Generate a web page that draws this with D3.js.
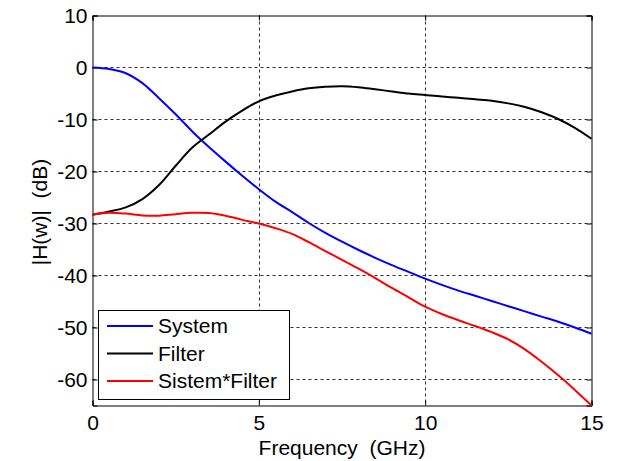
<!DOCTYPE html>
<html>
<head>
<meta charset="utf-8">
<script src="https://cdn.jsdelivr.net/npm/d3@7"></script>
<style>
  body { margin: 0; background: #fff; }
  svg { display: block; }
  text { font-family: Arial, "Liberation Sans", sans-serif; fill: #000; }
</style>
</head>
<body>
<svg id="chart" width="617" height="461"></svg>
<script>
// ---- data ----
const freq = [0,0.5,1,1.5,2,2.5,3,3.5,4,4.5,5,5.5,6,6.5,7,7.5,8,8.5,9,9.5,10,10.5,11,11.5,12,12.5,13,13.5,14,14.5,15];
const systemDb = [0,-0.3,-1.1,-3.0,-5.9,-9.0,-12.3,-15.3,-18.1,-20.8,-23.4,-25.8,-27.8,-29.9,-31.8,-33.5,-35.1,-36.6,-38.0,-39.3,-40.6,-41.8,-42.9,-43.9,-44.9,-45.9,-46.9,-47.9,-48.9,-50.0,-51.2];
const filterDb = [-28.3,-27.7,-26.9,-25.3,-22.6,-18.9,-15.4,-12.9,-10.4,-8.3,-6.5,-5.4,-4.6,-4.0,-3.7,-3.6,-3.8,-4.2,-4.6,-5.0,-5.3,-5.6,-5.8,-6.1,-6.4,-6.9,-7.6,-8.6,-9.9,-11.6,-13.7];
const productDb = [-28.3,-27.95,-28.1,-28.45,-28.5,-28.2,-27.95,-28.0,-28.5,-29.3,-30.0,-30.9,-32.0,-33.6,-35.3,-37.0,-38.7,-40.5,-42.4,-44.2,-46.0,-47.4,-48.6,-49.7,-50.9,-52.3,-54.2,-56.6,-59.2,-62.0,-65.0];
const seriesNames = ["System", "Filter", "Sistem*Filter"];
const seriesColors = ["#0000ff", "#000000", "#ff0000"];
const xTicks = [0, 5, 10, 15];
const yTicks = [10, 0, -10, -20, -30, -40, -50, -60];
const xLabel = "Frequency  (GHz)";
const yLabel = "|H(w)|  (dB)";

// ---- layout ----
const L = 92.5, R = 591.5, T = 15.5, B = 405.5;
const svg = d3.select("#chart");
const x = d3.scaleLinear().domain([0, 15]).range([L, R]);
const y = d3.scaleLinear().domain([-65, 10]).range([B, T]);
const fontSize = "21px";

// grid
const grid = svg.append("g").attr("stroke", "#333").attr("stroke-width", 1).attr("stroke-dasharray", "3,3");
xTicks.forEach(v => { if (v > 0 && v < 15) grid.append("line").attr("x1", Math.round(x(v)) + 0.5).attr("x2", Math.round(x(v)) + 0.5).attr("y1", T).attr("y2", B); });
yTicks.forEach(v => { if (v < 10) grid.append("line").attr("y1", y(v)).attr("y2", y(v)).attr("x1", L).attr("x2", R); });

// axes with inward ticks (both sides)
const axB = svg.append("g").attr("transform", `translate(0,${B})`)
  .call(d3.axisBottom(x).tickValues(xTicks).tickSize(-5).tickPadding(10));
const axT = svg.append("g").attr("transform", `translate(0,${T})`)
  .call(d3.axisTop(x).tickValues(xTicks).tickSize(-5).tickFormat(""));
const axLft = svg.append("g").attr("transform", `translate(${L},0)`)
  .call(d3.axisLeft(y).tickValues(yTicks).tickSize(-5).tickPadding(5));
const axRt = svg.append("g").attr("transform", `translate(${R},0)`)
  .call(d3.axisRight(y).tickValues(yTicks).tickSize(-5).tickFormat(""));
[axB, axT, axLft, axRt].forEach(a => {
  a.select(".domain").attr("stroke", "#000").attr("stroke-width", 1);
  a.selectAll(".tick line").attr("stroke", "#000");
  a.selectAll("text").style("font-size", fontSize).attr("fill", "#000")
    .style("font-family", "Arial, 'Liberation Sans', sans-serif");
});
axLft.selectAll("text").text(d => String(d));

// lines
const seriesData = [systemDb, filterDb, productDb];
const line = d3.line().x((d, i) => x(freq[i])).y(d => y(d)).curve(d3.curveCatmullRom.alpha(0.5));
const plot = svg.append("g");
seriesData.forEach((s, k) => {
  plot.append("path").datum(s).attr("d", line).attr("fill", "none")
    .attr("stroke", seriesColors[k]).attr("stroke-width", 2).attr("stroke-linejoin", "round");
});

// axis labels
svg.append("text").attr("x", (L + R) / 2).attr("y", 455).attr("text-anchor", "middle")
  .style("font-size", fontSize).style("white-space", "pre").text(xLabel);
svg.append("text").attr("transform", `translate(46.5,212) rotate(-90)`).attr("text-anchor", "middle")
  .style("font-size", fontSize).style("white-space", "pre").text(yLabel);

// legend
const lg = svg.append("g");
lg.append("rect").attr("x", 98.5).attr("y", 310.5).attr("width", 191).attr("height", 89)
  .attr("fill", "#fff").attr("stroke", "#000").attr("stroke-width", 1);
const legY = [326, 353.5, 381];
seriesNames.forEach((n, k) => {
  lg.append("line").attr("x1", 107).attr("x2", 153).attr("y1", legY[k]).attr("y2", legY[k])
    .attr("stroke", seriesColors[k]).attr("stroke-width", 2);
  lg.append("text").attr("x", 158).attr("y", legY[k] + 7.3)
    .style("font-size", fontSize).text(n);
});
</script>
</body>
</html>
